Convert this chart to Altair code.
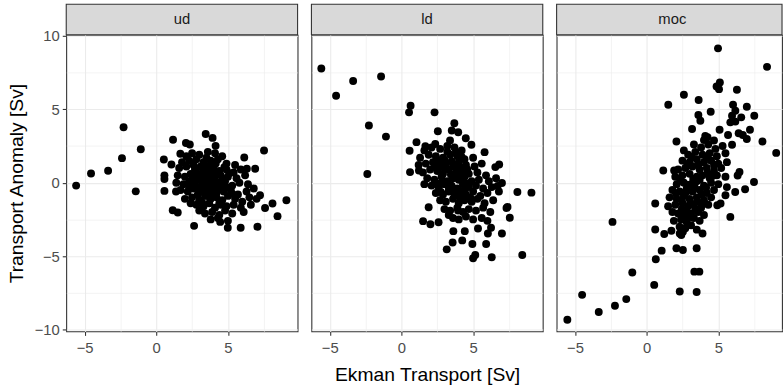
import altair as alt
import pandas as pd

panels = ["ud", "ld", "moc"]

ud_points = [
    (-5.59, -0.2), (-4.55, 0.63), (-3.36, 0.81), (-2.28, 3.78), (-2.39, 1.67), (-1.08, 2.28),
    (-1.43, -0.59), (0.53, 1.58), (1.06, 1.24), (1.17, 2.92), (0.57, 0.5), (0.57, 0.25),
    (1.68, 1.97), (2.07, 2.7), (2.34, 2.6), (3.45, 3.32), (3.93, 3.05), (4.14, 2.51),
    (6.14, 1.72), (7.52, 2.19), (0.57, -0.56), (1.38, -0.6), (2.64, -2.94), (4.46, -2.67),
    (4.99, -3.07), (5.89, -3.07), (7.06, -3.0), (1.15, -1.88), (1.5, -2.03), (9.08, -1.2),
    (8.46, -2.28), (8.11, -1.42), (7.59, -1.72), (7.24, -0.86), (6.9, 0.95), (6.32, 0.95),
    (2.5, 2.0), (3.0, 1.9), (3.6, 2.1), (4.1, 2.0), (4.6, 1.8), (2.1, 1.8),
    (1.8, 1.4), (2.3, 1.5), (2.8, 1.6), (3.3, 1.4), (3.8, 1.5), (4.3, 1.6), (4.9, 1.3), (5.5, 1.2), (2.6, 1.2),
    (1.6, 1.0), (2.1, 1.1), (2.7, 0.9), (3.1, 1.1), (3.5, 0.9), (4.0, 1.0), (4.4, 0.8), (4.9, 0.9),
    (5.4, 0.7), (5.9, 0.9), (3.8, 1.2),
    (1.5, 0.5), (2.0, 0.4), (2.4, 0.6), (2.9, 0.5), (3.3, 0.4), (3.7, 0.6), (4.1, 0.4), (4.5, 0.5),
    (5.0, 0.4), (5.6, 0.3), (6.2, 0.5), (3.0, 0.2),
    (1.4, 0.0), (1.9, -0.1), (2.3, 0.1), (2.7, -0.1), (3.2, 0.0), (3.6, 0.1), (4.0, -0.1), (4.4, 0.0),
    (4.8, 0.1), (5.3, -0.2), (5.8, 0.0), (6.4, -0.1), (3.4, -0.3),
    (1.7, -0.5), (2.2, -0.6), (2.6, -0.4), (3.1, -0.6), (3.5, -0.5), (3.9, -0.7), (4.3, -0.4), (4.7, -0.6),
    (5.2, -0.5), (5.7, -0.8), (6.3, -0.6), (6.8, -0.4), (4.1, -0.3),
    (2.0, -1.1), (2.5, -1.0), (3.0, -1.2), (3.4, -0.9), (3.8, -1.1), (4.2, -1.0), (4.6, -1.2), (5.0, -0.9),
    (5.5, -1.1), (6.0, -1.3), (6.5, -1.0), (7.0, -1.1),
    (2.8, -1.5), (3.3, -1.6), (3.7, -1.4), (4.1, -1.7), (4.5, -1.5), (4.9, -1.6), (5.4, -1.5), (5.9, -1.7),
    (6.6, -1.5), (2.4, -1.4),
    (3.4, -2.1), (3.9, -2.0), (4.4, -2.2), (4.8, -1.9), (5.3, -2.1), (6.1, -2.0), (3.0, -1.9),
    (3.8, -2.5), (4.3, -2.4), (5.0, -2.6),
    (2.8, 0.7), (3.2, 0.65), (3.55, 0.3), (3.85, 0.8), (4.25, 0.6), (4.65, 0.25), (3.0, -0.35),
    (3.75, -0.3), (4.2, -0.7), (4.55, -0.2), (2.55, 0.3), (3.35, 1.2), (4.15, 1.3), (3.6, -0.9),
    (4.9, -0.3), (2.9, -0.8), (3.95, 0.15), (4.4, -1.4), (3.2, -1.35), (5.1, 0.65), (2.3, -0.3),
    (3.5, 1.7), (4.75, 1.05), (5.3, -0.75),
]

ld_points = [
    (-5.59, 7.78), (-4.56, 5.92), (-3.37, 6.92), (-1.42, 7.23), (-2.27, 3.89), (-1.08, 3.14),
    (-2.38, 0.59), (0.64, 5.24), (0.53, 4.79), (2.31, 4.79), (3.69, 4.05), (2.54, 3.5),
    (3.51, 3.55), (3.96, 3.44), (4.49, 3.03), (4.88, 2.58), (1.05, 2.76), (0.57, 2.17),
    (5.8, 2.08), (6.55, 1.06), (6.82, 1.24), (0.6, 0.72), (1.22, 0.83), (7.01, -0.02),
    (8.09, -0.63), (9.07, -0.68), (3.39, 2.87), (1.67, 2.49), (2.36, 2.64), (1.9, -1.67),
    (1.51, -2.62), (2.02, -2.83), (2.59, -2.7), (2.75, -0.63), (3.16, -4.54), (3.57, -4.07),
    (4.24, -3.93), (4.95, -4.18), (5.0, -5.15), (5.15, -4.93), (6.3, -5.08), (8.43, -4.93),
    (5.91, -4.18), (4.42, -3.3), (3.62, -3.3), (7.01, -3.46), (7.56, -2.39), (7.33, -1.72),
    (6.71, -0.22), (6.03, -3.46), (6.25, -3.07), (5.34, -3.12), (7.4, -1.65),
    (1.6, 2.2), (2.1, 2.4), (2.7, 2.3), (3.2, 2.1), (3.7, 2.4), (4.2, 2.2),
    (1.3, 1.7), (1.9, 1.9), (2.4, 1.8), (2.9, 1.7), (3.4, 1.9), (3.9, 1.8), (4.4, 1.6), (5.0, 1.7),
    (1.2, 1.2), (1.7, 1.3), (2.2, 1.4), (2.7, 1.2), (3.1, 1.3), (3.6, 1.1), (4.0, 1.4), (4.5, 1.2),
    (5.1, 1.1), (5.6, 1.3),
    (1.5, 0.7), (2.0, 0.9), (2.5, 0.8), (2.9, 0.6), (3.3, 0.9), (3.8, 0.7), (4.2, 0.8), (4.7, 0.6),
    (5.3, 0.7), (5.9, 0.5),
    (1.8, 0.3), (2.3, 0.2), (2.8, 0.4), (3.2, 0.1), (3.6, 0.3), (4.0, 0.2), (4.4, 0.4), (4.9, 0.1),
    (5.4, 0.2), (6.1, 0.1), (6.6, 0.3),
    (2.1, -0.2), (2.6, -0.3), (3.0, -0.1), (3.5, -0.2), (3.9, -0.4), (4.3, -0.1), (4.7, -0.3), (5.2, -0.2),
    (5.7, -0.4), (6.3, -0.3), (1.6, -0.1),
    (2.4, -0.7), (2.9, -0.8), (3.3, -0.6), (3.7, -0.9), (4.1, -0.7), (4.5, -0.8), (5.0, -0.6), (5.5, -0.9),
    (6.0, -0.7), (6.8, -0.6),
    (2.7, -1.2), (3.1, -1.3), (3.6, -1.1), (4.0, -1.4), (4.4, -1.2), (4.9, -1.3), (5.3, -1.1), (5.8, -1.4),
    (6.4, -1.2),
    (3.0, -1.8), (3.4, -1.9), (3.9, -1.7), (4.3, -2.0), (4.7, -1.8), (5.2, -1.9), (5.7, -1.7), (6.2, -2.0),
    (3.6, -2.4), (4.0, -2.5), (4.5, -2.3), (5.0, -2.5), (5.6, -2.4), (6.0, -2.6), (3.3, -2.2),
    (2.5, 1.5), (3.0, 1.55), (3.5, 1.45), (3.85, 1.15), (4.25, 1.0), (2.6, 1.0), (3.05, 0.95),
    (3.45, 0.55), (3.9, 0.45), (4.3, 0.05), (3.3, -0.35), (3.7, -0.55), (4.1, -1.0), (4.6, 0.9),
    (2.35, 1.1), (3.8, 2.05), (4.6, -0.05), (3.95, -1.9), (4.8, -1.0), (2.85, 0.05), (3.2, 2.5),
    (4.2, 1.75), (2.5, -0.05), (4.4, -0.5),
]

moc_points = [
    (4.98, 9.15), (8.4, 7.89), (5.11, 6.83), (4.88, 6.55), (5.05, 6.37), (6.3, 6.33), (2.6, 5.99),
    (3.63, 5.63), (1.51, 5.31), (6.03, 5.31), (6.99, 5.17), (4.47, 4.83), (3.61, 4.61), (3.75, 4.22),
    (5.96, 4.56), (6.19, 4.16), (6.6, 4.45), (7.51, 4.56), (3.17, 3.66), (5.09, 3.61), (5.68, 3.25),
    (6.42, 3.37), (6.71, 3.25), (7.21, 3.61), (6.99, 2.98), (8.08, 2.8), (9.04, 2.03), (2.08, 2.8),
    (4.25, 3.1), (4.7, 2.87), (5.96, 2.58), (5.84, 4.11), (6.19, 4.9), (4.09, 3.18),
    (1.16, 0.83), (1.92, 0.83), (7.49, 0.05), (6.87, -0.45), (6.18, -0.63), (5.5, -0.86), (6.48, 0.73),
    (6.35, 0.49), (5.84, -2.33), (0.6, -1.42), (0.6, -3.19), (1.23, -3.5), (1.05, -4.63), (0.64, -5.22),
    (1.73, -3.27), (2.31, -3.46), (2.53, -3.34), (2.08, -4.47), (2.53, -4.59), (3.49, -4.47),
    (3.9, -3.46), (5.16, -1.42), (4.93, -1.54), (2.42, -3.57),
    (-5.53, -9.33), (-4.5, -7.64), (-3.34, -8.81), (-2.21, -8.38), (-2.38, -2.67), (-1.42, -7.93),
    (-1.0, -6.12), (0.53, -6.96), (2.31, -7.41), (3.49, -7.44), (3.33, -6.06), (3.68, -6.06),
    (3.3, 2.6), (3.8, 2.4), (4.3, 2.6), (4.8, 2.3), (5.3, 2.5), (4.0, 2.9),
    (2.9, 1.9), (3.4, 2.1), (3.9, 1.9), (4.4, 2.0), (4.9, 1.8), (5.5, 2.0), (2.6, 2.2),
    (2.5, 1.5), (3.0, 1.4), (3.5, 1.6), (4.0, 1.4), (4.5, 1.5), (5.0, 1.3), (5.6, 1.4),
    (2.2, 0.9), (2.7, 1.0), (3.2, 1.1), (3.7, 0.9), (4.2, 1.0), (4.7, 0.8), (5.2, 1.0),
    (2.0, 0.4), (2.5, 0.5), (3.0, 0.6), (3.5, 0.4), (3.9, 0.5), (4.4, 0.3), (4.9, 0.5), (5.5, 0.4),
    (2.1, -0.1), (2.6, 0.0), (3.1, -0.1), (3.5, 0.1), (4.0, -0.2), (4.5, 0.0), (5.0, -0.1), (5.6, -0.3),
    (1.8, -0.5), (2.3, -0.6), (2.8, -0.4), (3.2, -0.6), (3.7, -0.5), (4.2, -0.7), (4.7, -0.5),
    (1.6, -1.0), (2.1, -1.1), (2.6, -0.9), (3.0, -1.1), (3.5, -1.0), (4.0, -1.2), (4.5, -1.0),
    (1.5, -1.6), (2.0, -1.5), (2.5, -1.4), (2.9, -1.6), (3.3, -1.5), (3.8, -1.7), (4.3, -1.5),
    (1.8, -2.0), (2.2, -2.1), (2.7, -1.9), (3.1, -2.1), (3.6, -2.0), (4.0, -2.2),
    (1.9, -2.6), (2.4, -2.5), (2.8, -2.7), (3.3, -2.4), (3.7, -2.6),
    (2.3, -3.0), (2.7, -3.1), (3.1, -2.9), (3.5, -3.2),
    (3.25, 0.25), (3.7, 0.2), (2.85, -0.15), (3.35, -0.3), (3.85, -0.8), (2.45, -1.2), (2.75, -0.65),
    (3.05, -1.35), (3.55, -1.3), (4.25, 0.65), (3.6, 1.25), (2.85, 1.15), (2.35, 0.15), (2.45, -1.8),
    (2.95, -2.35), (3.4, -1.8), (4.15, -0.35), (4.7, 1.2), (4.2, 1.7), (3.15, 1.75), (2.05, -0.75),
    (3.9, -1.45), (2.6, -2.25), (4.6, 0.45),
]

x_ticks = [-5, -2.5, 0, 2.5, 5, 7.5]
y_ticks = [-10, -7.5, -5, -2.5, 0, 2.5, 5, 7.5, 10]
x_min = -6.28
x_per_px = 16.14 / 234.0
y_domain = [-10.13, 10.07]
x_title = "Ekman Transport [Sv]"
y_title = "Transport Anomaly [Sv]"

PH, SH = 300, 31
FONT = "Liberation Sans"
major_test = "abs(datum.value % 5) < 0.001"

def grid_props():
    return dict(
        grid=True,
        gridColor="#EBEBEB",
        gridWidth={"condition": {"test": major_test, "value": 1.1}, "value": 0.55},
        domain=False,
    )

def make_panel(name, pts, width, first, middle):
    df = pd.DataFrame({"x": [p[0] for p in pts], "y": [p[1] for p in pts]})
    x_domain = [x_min, x_min + width * x_per_px]
    xaxis = alt.Axis(
        values=x_ticks,
        labelExpr="abs(datum.value % 5) < 0.001 ? datum.label : ''",
        tickOpacity={"condition": {"test": major_test, "value": 1}, "value": 0},
        tickColor="#333333", tickSize=4, tickWidth=1.1,
        labelColor="#4D4D4D", labelFontSize=15, labelFont=FONT, labelPadding=5,
        title=x_title if middle else None,
        titleFontSize=19.5, titleFont=FONT, titleFontWeight="normal", titleColor="#000000",
        titlePadding=11,
        **grid_props(),
    )
    if first:
        yaxis = alt.Axis(
            values=y_ticks,
            labelExpr="abs(datum.value % 5) < 0.001 ? datum.label : ''",
            tickOpacity={"condition": {"test": major_test, "value": 1}, "value": 0},
            tickColor="#333333", tickSize=4, tickWidth=1.1,
            labelColor="#4D4D4D", labelFontSize=15, labelFont=FONT, labelPadding=3,
            title=y_title, titleFontSize=19.5, titleFont=FONT, titleFontWeight="normal",
            titleColor="#000000", titlePadding=8,
            **grid_props(),
        )
    else:
        yaxis = alt.Axis(values=y_ticks, labels=False, ticks=False, title=None, **grid_props())
    pts_layer = alt.Chart(df).mark_circle(size=64, color="#000000", opacity=1).encode(
        x=alt.X("x:Q", scale=alt.Scale(domain=x_domain, nice=False, zero=False), axis=xaxis),
        y=alt.Y("y:Q", scale=alt.Scale(domain=y_domain, nice=False, zero=False), axis=yaxis),
    )
    sdf = pd.DataFrame({"label": [name]})
    strip = alt.Chart(sdf).mark_rect(fill="#D9D9D9", stroke="#333333", strokeWidth=1.1).encode(
        x=alt.value(0), x2=alt.value(width), y=alt.value(-SH), y2=alt.value(0)
    )
    stext = alt.Chart(sdf).mark_text(fontSize=15, font=FONT, color="#1A1A1A", baseline="middle").encode(
        x=alt.value(117), y=alt.value(-SH / 2), text="label:N"
    )
    return alt.layer(strip, stext, pts_layer).properties(width=width, height=PH)

chart = alt.hconcat(
    make_panel("ud", ud_points, 234, True, False),
    make_panel("ld", ld_points, 234, False, True),
    make_panel("moc", moc_points, 228, False, False),
    spacing=10,
).properties(
    padding={"left": 6, "top": 0, "right": 0, "bottom": 0},
    background="#FFFFFF",
).configure_view(stroke="#333333", strokeWidth=1.1)

chart.save("out.html", embed_options={"renderer": "svg", "actions": False})
